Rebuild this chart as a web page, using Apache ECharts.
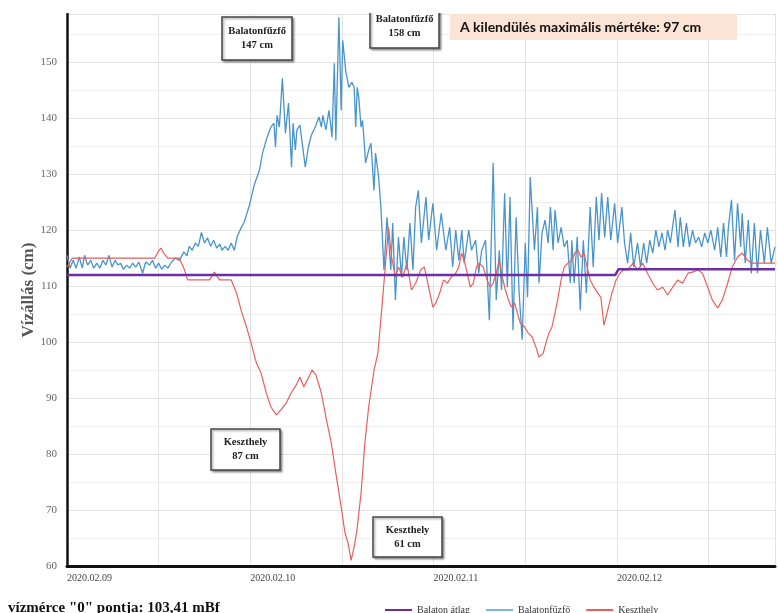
<!DOCTYPE html>
<html>
<head>
<meta charset="utf-8">
<script src="https://cdn.jsdelivr.net/npm/echarts@6/dist/echarts.min.js"></script>
<style>
html,body{margin:0;padding:0;background:#fff;}
#chart{width:778px;height:613px;}
</style>
</head>
<body>
<div id="chart"></div>
<script>
// time in hours since 2020-02-09 00:00, water level in cm
const dayLabels = ['2020.02.09', '2020.02.10', '2020.02.11', '2020.02.12'];
const seriesNames = ['Balaton átlag', 'Balatonfűzfő', 'Keszthely'];

const atlagData = [[0,112],[71.8,112],[72.2,113],[92.7,113]];

const fuzfoData = [
[0,115.5],[0.4,113.2],[0.8,114.6],[1.2,113.2],[1.6,115.2],[2.0,113.2],[2.3,115.5],[2.7,113.75],[3.1,114.6],[3.5,113.2],
[3.9,114.1],[4.3,113.2],[4.7,114.6],[5.1,113.75],[5.5,115.5],[5.9,113.4],[6.3,114.6],[6.7,113.75],[7.0,114.1],[7.4,113.0],
[7.8,113.75],[8.2,113.2],[8.6,114.1],[9.0,113.4],[9.4,114.3],[9.9,112.3],[10.3,114.3],[10.8,113.75],[11.2,114.6],[11.6,113.2],
[12.0,114.1],[12.4,113.0],[12.8,113.75],[13.2,113.2],[13.7,114.3],[14.2,115.0],[14.7,114.6],[15.3,116.1],[15.7,115.4],[16.0,117.1],
[16.4,116.4],[16.8,117.7],[17.2,117.1],[17.6,119.6],[18.0,117.7],[18.4,118.6],[18.8,117.1],[19.2,118.2],[19.6,116.8],[20.0,117.5],
[20.3,116.4],[20.7,117.1],[21.1,116.4],[21.5,117.7],[21.9,116.4],[22.3,118.9],[22.8,120.4],[23.2,121.4],[23.9,124.5],[24.5,128.0],
[25.2,130.7],[25.6,133.75],[26.2,136.6],[26.7,138.4],[27.1,139.1],[27.3,134.8],[27.5,140.5],[27.8,138.4],[28.2,147.1],[28.6,137.3],
[29.0,142.7],[29.4,131.25],[29.6,139.1],[29.9,134.3],[30.1,137.9],[30.5,138.75],[30.8,135.5],[31.2,131.25],[31.6,134.8],[32.0,137.0],
[32.5,138.4],[33.0,140.2],[33.3,138.4],[33.5,140.5],[33.9,137.9],[34.3,141.4],[34.7,136.6],[35.0,149.8],[35.2,136.0],[35.6,158.0],
[35.9,141.4],[36.1,153.9],[36.5,148.4],[36.9,145.5],[37.3,146.4],[37.6,145.5],[37.8,138.4],[38.0,145.5],[38.2,143.75],[38.5,138.4],
[38.7,139.6],[39.1,132.0],[39.5,134.3],[39.8,135.5],[40.2,127.1],[40.4,133.75],[40.8,129.5],[41.1,124.1],[41.5,112.9],[41.9,122.3],
[42.4,112.9],[42.65,121.25],[43.0,107.5],[43.4,118.75],[43.8,111.6],[44.1,118.75],[44.5,112.9],[44.9,121.25],[45.3,112.9],[45.65,124.1],
[46.0,127.1],[46.4,117.7],[47.0,125.9],[47.35,118.2],[47.9,124.8],[48.4,116.4],[49.0,123.0],[49.6,116.4],[50.1,120.5],[50.5,113.4],
[50.9,120.0],[51.3,114.6],[51.7,120.0],[52.0,114.1],[52.6,120.0],[52.96,116.4],[53.5,118.2],[53.9,112.3],[54.3,116.4],[54.8,118.2],
[55.3,103.9],[55.8,132.0],[56.2,107.5],[56.6,116.4],[56.9,109.3],[57.3,126.6],[57.65,109.8],[58.0,125.9],[58.4,102.1],[58.8,122.3],
[59.2,108.75],[59.6,100.4],[60.0,117.7],[60.3,108.0],[60.65,129.5],[61.2,116.4],[61.6,124.1],[61.8,110.5],[62.2,119.5],[62.6,121.8],
[63.0,117.7],[63.3,124.1],[63.65,116.4],[63.9,123.6],[64.3,117.7],[64.7,120.5],[65.1,117.0],[65.5,118.2],[65.9,110.5],[66.1,118.2],
[66.4,110.5],[66.8,118.75],[67.2,105.7],[67.6,118.2],[68.0,108.75],[68.5,124.1],[68.9,113.4],[69.3,125.9],[69.65,118.2],[70.0,126.6],
[70.4,118.75],[70.8,125.9],[71.2,118.2],[71.7,124.8],[72.1,117.7],[72.65,124.1],[73.0,117.7],[73.4,114.1],[73.8,119.5],[74.2,113.4],
[74.7,117.7],[75.1,113.4],[75.5,117.7],[75.9,114.1],[76.3,118.2],[76.7,115.9],[77.1,120.0],[77.5,117.0],[77.9,119.5],[78.3,116.4],
[78.65,120.0],[79.0,117.7],[79.6,123.6],[80.0,117.0],[80.3,122.3],[80.7,117.0],[81.1,121.25],[81.5,117.0],[81.9,120.0],[82.3,117.7],
[82.7,118.75],[83.1,117.0],[83.5,119.5],[83.9,117.7],[84.3,120.0],[84.8,116.4],[85.2,120.5],[85.6,115.2],[85.96,121.25],[86.35,115.2],
[86.6,120.5],[87.0,125.4],[87.4,114.6],[87.8,124.8],[88.2,117.0],[88.4,123.0],[88.8,114.1],[89.2,121.8],[89.6,112.3],[90.0,121.25],
[90.4,112.3],[90.8,120.0],[91.3,114.1],[91.7,120.5],[92.2,114.1],[92.7,117.0]
];

const keszthelyData = [
[0,113.4],[0.7,115.0],[11.5,115.0],[11.9,116.1],[12.3,116.8],[12.65,115.9],[13.2,115.0],[14.7,115.0],[15.3,113.2],[15.8,111.1],
[18.65,111.1],[19.3,112.5],[19.96,111.1],[21.5,111.1],[22.2,108.75],[22.8,105.7],[23.5,102.7],[24.1,99.8],[24.8,96.25],[25.4,94.5],
[26.1,90.9],[26.7,88.4],[27.4,87.0],[28.0,87.9],[28.7,89.1],[29.35,90.9],[30.0,92.3],[30.5,93.75],[31.0,92.0],[31.6,93.6],
[32.1,95.0],[32.6,94.1],[33.3,90.9],[33.9,86.6],[34.6,82.0],[35.2,76.6],[35.9,70.5],[36.4,65.9],[36.8,64.1],[37.2,61.0],
[37.6,63.4],[37.96,66.4],[38.5,73.0],[39.0,82.0],[39.5,88.4],[40.2,95.0],[40.7,98.0],[41.2,105.7],[41.6,112.3],[42.1,120.5],
[42.5,115.2],[43.0,111.6],[43.4,113.4],[43.96,111.6],[44.5,114.1],[45.1,109.3],[45.65,110.5],[46.3,112.9],[46.8,113.4],[47.35,109.8],
[47.9,106.25],[48.3,107.0],[48.8,108.75],[49.3,111.1],[49.8,110.5],[50.3,111.6],[50.9,112.3],[51.3,113.4],[51.65,115.9],[52.0,114.6],
[52.4,112.3],[52.8,109.8],[53.2,110.5],[53.6,113.4],[54.0,114.1],[54.5,113.4],[55.0,111.1],[55.4,109.8],[55.8,110.5],[56.2,112.3],
[56.6,114.6],[57.0,111.6],[57.4,109.3],[57.8,107.5],[58.2,106.25],[58.6,107.0],[58.96,105.2],[59.35,103.4],[59.9,102.7],[60.4,101.6],
[60.9,100.9],[61.4,99.1],[61.8,97.3],[62.35,98.0],[62.7,99.8],[63.1,101.6],[63.5,102.7],[63.9,105.2],[64.3,108.0],[64.7,111.1],
[65.1,113.4],[65.6,114.1],[66.1,114.6],[66.5,115.9],[66.9,116.4],[67.3,115.2],[67.7,115.9],[68.1,113.4],[68.5,111.1],[69.0,109.8],
[69.5,108.75],[69.9,108.0],[70.3,103.0],[70.8,105.7],[71.35,108.75],[71.9,111.1],[72.4,112.3],[72.9,112.9],[73.4,112.9],[74.1,114.1],
[74.7,112.9],[75.4,114.1],[76.0,112.3],[76.7,110.5],[77.3,109.3],[78.0,109.8],[78.65,108.4],[79.3,109.8],[79.96,111.1],[80.6,110.5],
[81.3,112.3],[81.9,112.5],[82.6,112.9],[83.2,112.3],[83.9,109.8],[84.5,107.5],[85.2,106.1],[85.8,107.5],[86.5,110.5],[87.1,113.4],
[87.8,115.2],[88.4,115.9],[89.1,114.6],[89.7,114.1],[92.7,114.1]
];

const annotations = [
  {lines: 'Balatonfűzfő\n147 cm', x: 222, y: 17, w: 70, h: 43},
  {lines: 'Balatonfűzfő\n158 cm', x: 370, y: 4, w: 69, h: 44},
  {lines: 'Keszthely\n87 cm', x: 211, y: 429, w: 69, h: 41},
  {lines: 'Keszthely\n61 cm', x: 373, y: 517, w: 69, h: 40}
];
const headline = 'A kilendülés maximális mértéke: 97 cm';
const footnote = 'vízmérce "0" pontja: 103,41 mBf';

const SERIF = '"Liberation Serif","DejaVu Serif",serif';

function boxEl(a) {
  return [
    {type: 'rect', z: 100, shape: {x: a.x, y: a.y, width: a.w, height: a.h},
     style: {fill: '#fff', stroke: '#444', lineWidth: 1.5,
             shadowBlur: 2, shadowOffsetX: 1.5, shadowOffsetY: 1.5, shadowColor: 'rgba(0,0,0,0.35)'}},
    {type: 'text', z: 101, style: {text: a.lines, x: a.x + a.w / 2, y: a.y + a.h / 2,
      align: 'center', verticalAlign: 'middle', textAlign: 'center', textVerticalAlign: 'middle',
      font: 'bold 10.5px ' + SERIF, lineHeight: 14, fill: '#222'}}
  ];
}

const chart = echarts.init(document.getElementById('chart'), null, {renderer: 'canvas'});
chart.setOption({
  backgroundColor: '#fff',
  animation: false,
  grid: {left: 67, right: 0, top: 14, bottom: 47, containLabel: false},
  legend: {
    data: seriesNames.map(n => ({name: n, icon: 'rect'})),
    left: 380, top: 600,
    itemWidth: 27, itemHeight: 2, itemGap: 16,
    textStyle: {fontFamily: SERIF, fontSize: 10, color: '#333'}
  },
  xAxis: {
    type: 'value', min: 0, max: 92.7, interval: 12,
    axisLine: {show: true, onZero: false, lineStyle: {color: '#111', width: 3}},
    axisTick: {show: false},
    axisLabel: {
      align: 'left', margin: 7, fontFamily: SERIF, fontSize: 10, color: '#444',
      formatter: v => (Math.abs(v % 24) < 1e-6 ? (dayLabels[Math.round(v / 24)] || '') : '')
    },
    splitLine: {show: true, lineStyle: {color: '#e3e3e3', width: 1}}
  },
  yAxis: {
    type: 'value', min: 60, max: 158.6, interval: 10,
    name: 'Vízállás (cm)', nameLocation: 'middle', nameGap: 30, nameMoveOverlap: false,
    nameTextStyle: {fontFamily: SERIF, fontSize: 17, fontWeight: 'bold', color: '#555'},
    axisLine: {show: true, lineStyle: {color: '#111', width: 2.5}},
    axisTick: {show: false},
    axisLabel: {showMaxLabel: false, margin: 10, fontFamily: SERIF, fontSize: 11, color: '#666'},
    splitLine: {show: true, lineStyle: {color: '#e3e3e3', width: 1}},
    minorTick: {show: false, splitNumber: 2},
    minorSplitLine: {show: true, lineStyle: {color: '#efefef', width: 1}}
  },
  series: [
    {name: seriesNames[0], type: 'line', data: atlagData, showSymbol: false, z: 5,
     lineStyle: {color: '#6b2fa3', width: 2.5}, itemStyle: {color: '#6b2fa3'}},
    {name: seriesNames[1], type: 'line', data: fuzfoData, showSymbol: false, z: 3,
     lineStyle: {color: '#4a94cc', width: 1.3}, itemStyle: {color: '#7fb5dc'}},
    {name: seriesNames[2], type: 'line', data: keszthelyData, showSymbol: false, z: 4,
     lineStyle: {color: '#e8605e', width: 1.2}, itemStyle: {color: '#e8605e'}}
  ],
  graphic: {
    elements: [
      ...annotations.flatMap(boxEl),
      {type: 'rect', z: 150, shape: {x: 0, y: 0, width: 778, height: 13}, style: {fill: '#fff'}},
      {type: 'rect', z: 160, shape: {x: 450, y: 14, width: 287, height: 26}, style: {fill: '#fbe4d5'}},
      {type: 'text', z: 170, style: {text: headline, x: 460, y: 27, verticalAlign: 'middle', textVerticalAlign: 'middle',
        font: 'bold 14px Lato, "Open Sans", sans-serif', fill: '#111'}},
      {type: 'text', z: 170, style: {text: footnote, x: 8, y: 608, verticalAlign: 'middle', textVerticalAlign: 'middle',
        font: 'bold 15px ' + SERIF, fill: '#111'}}
    ]
  }
});
</script>
</body>
</html>
